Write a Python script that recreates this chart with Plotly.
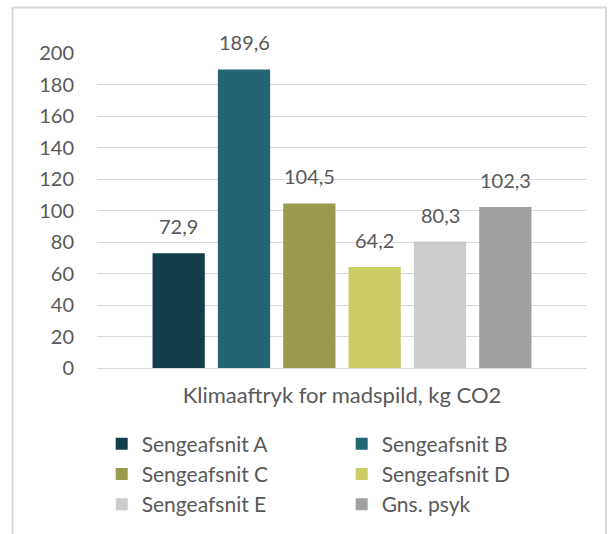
import plotly.graph_objects as go

category = ["Klimaaftryk for madspild, kg CO2"]
series_names = ["Sengeafsnit A", "Sengeafsnit B", "Sengeafsnit C",
                "Sengeafsnit D", "Sengeafsnit E", "Gns. psyk"]
values = [72.9, 189.6, 104.5, 64.2, 80.3, 102.3]
value_labels = ["72,9", "189,6", "104,5", "64,2", "80,3", "102,3"]
colors = ["#133F4B", "#256473", "#9A9A4D", "#CCCC66", "#CCCCCC", "#A0A0A0"]
y_ticks = [0, 20, 40, 60, 80, 100, 120, 140, 160, 180, 200]

W, H = 609, 534
ML, MR, MT, MB = 97, 22, 53, 166
BARGAP, BARGROUPGAP = 0.2, 0.2
FONT = "Lato"
TXT = "#595959"
GRID = "#D9D9D9"

fig = go.Figure()
for name, v, c in zip(series_names, values, colors):
    fig.add_trace(go.Bar(x=category, y=[v], name=name, marker_color=c,
                         marker_line_width=0, hoverinfo="skip"))

n = len(series_names)
slot = (1 - BARGAP) / n
for i, (v, lab) in enumerate(zip(values, value_labels)):
    fig.add_annotation(x=-(1 - BARGAP) / 2 + (i + 0.5) * slot, y=v, xref="x", yref="y",
                       text=lab, showarrow=False, yanchor="bottom", yshift=13,
                       font=dict(family=FONT, size=20, color=TXT))

pw = W - ML - MR
ph = H - MT - MB
fig.add_shape(type="rect", xref="paper", yref="paper",
              x0=(12.5 - ML) / pw, x1=(606 - ML) / pw,
              y0=-(MB + 20) / ph, y1=(H - MB - 7.5) / ph,
              line=dict(color=GRID, width=2), fillcolor="rgba(0,0,0,0)", layer="below")

fig.update_layout(
    width=W, height=H,
    margin=dict(l=ML, r=MR, t=MT, b=MB, autoexpand=False),
    paper_bgcolor="white", plot_bgcolor="white",
    barmode="group", bargap=BARGAP, bargroupgap=BARGROUPGAP,
    font=dict(family=FONT, size=20, color=TXT),
    showlegend=True,
    legend=dict(orientation="h", x=(101.7 - ML) / pw, xanchor="left",
                y=-55.5 / ph, yanchor="top",
                entrywidth=195, entrywidthmode="pixels",
                font=dict(family=FONT, size=21, color=TXT),
                bgcolor="rgba(0,0,0,0)"),
    xaxis=dict(showgrid=False, showline=False, ticks="",
               tickfont=dict(family=FONT, size=22, color=TXT),
               ticklabelstandoff=12),
    yaxis=dict(range=[0, 200], tickvals=y_ticks, showgrid=True, gridcolor=GRID,
               gridwidth=1, zeroline=True, zerolinecolor=GRID, zerolinewidth=1,
               showline=False, ticks="", ticklabelstandoff=22,
               tickfont=dict(family=FONT, size=20, color=TXT)),
)

fig.write_html("out.html", config={"displayModeBar": False},
               post_script="document.body.style.margin='0';document.body.style.overflow='hidden';")
